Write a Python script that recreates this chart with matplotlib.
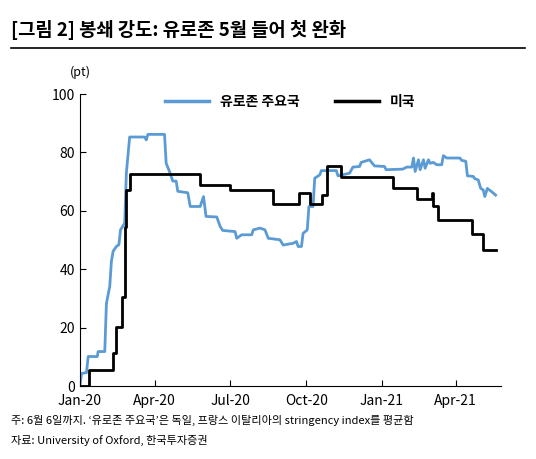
import matplotlib
matplotlib.use("Agg")
import matplotlib.pyplot as plt
from matplotlib.lines import Line2D

plt.rcParams["font.family"] = ["Noto Sans CJK KR", "DejaVu Sans"]

# days since 2020-01-01 (as laid out on the source chart)
eu_days = [0, 2, 8, 10, 21, 22, 30, 32, 36, 38, 40, 44, 47, 49, 54, 56, 60, 78, 80, 82,
           102, 104, 108, 112, 116, 118, 130, 133, 145, 149, 152, 165, 169, 172, 187, 189,
           195, 207, 209, 217, 223, 227, 241, 245, 257, 261, 263, 267, 269, 274, 276, 281,
           283, 289, 291, 309, 311, 325, 329, 337, 339, 349, 355, 367, 369, 389, 394, 400,
           402, 404, 408, 410, 414, 416, 420, 422, 426, 430, 436, 438, 442, 458, 460, 465,
           467, 474, 476, 480, 483, 486, 488, 491, 496, 501]
eu_vals = [0, 4.3, 4.6, 10.1, 10.1, 11.8, 11.8, 28.3, 34.1, 42.7, 46.1, 47.8, 48.4, 53.5,
           55.8, 72.9, 85.3, 85.3, 84.3, 86.2, 86.2, 76.3, 73.5, 70.2, 70.2, 66.7, 66.2,
           61.5, 61.5, 64.9, 58.1, 57.9, 54.7, 53.3, 52.9, 50.6, 51.8, 51.8, 53.5, 54.1,
           53.5, 50.6, 50.1, 48.3, 48.9, 49.5, 47.8, 47.8, 52.3, 53.5, 61.5, 61.5, 71.2,
           72.3, 73.8, 73.8, 72.0, 72.9, 75.0, 75.2, 76.6, 77.5, 75.4, 75.2, 74.1, 74.3,
           75.0, 75.0, 78.1, 73.5, 77.5, 74.1, 77.5, 74.6, 77.5, 76.3, 76.6, 75.8, 75.8,
           78.9, 78.1, 78.1, 77.3, 77.0, 72.0, 71.8, 71.0, 70.6, 67.7, 67.2, 64.9, 67.7,
           66.6, 65.4]

us_days = [0, 11, 40, 43, 51, 54, 56, 60, 145, 181, 233, 264, 277, 292, 298, 315, 377,
           406, 424, 426, 431, 472, 486, 501]
us_vals = [0, 5.4, 11.2, 20.3, 30.6, 54.6, 67.2, 72.5, 68.8, 67.2, 62.4, 66.0, 62.4,
           65.4, 75.4, 71.7, 68.0, 64.2, 66.0, 61.5, 56.8, 52.1, 46.6, 46.6]

tick_days = [0, 90, 181, 273, 364, 453]
tick_labels = ["Jan-20", "Apr-20", "Jul-20", "Oct-20", "Jan-21", "Apr-21"]

blue = "#5b9bd5"

fig = plt.figure(figsize=(5.36, 4.59), dpi=100)
ax = fig.add_axes([0.149, 0.159, 0.785, 0.636])

ax.plot(eu_days, eu_vals, color=blue, lw=2.0)
ax.step(us_days, us_vals, where="post", color="black", lw=2.0)

ax.set_xlim(0, 507)
ax.set_ylim(0, 100)
ax.set_yticks(range(0, 101, 20))
ax.set_xticks(tick_days)
ax.set_xticklabels(tick_labels)
ax.tick_params(axis="both", labelsize=10, direction="in", length=4)
ax.tick_params(axis="x", pad=6)
for s in ["top", "right"]:
    ax.spines[s].set_visible(False)

handles = [Line2D([], [], color=blue, lw=2.5), Line2D([], [], color="black", lw=2.5)]
ax.legend(handles, ["유로존 주요국", "미국"], loc="upper center", bbox_to_anchor=(0.5, 1.04),
          ncol=2, frameon=False, handlelength=3.2, columnspacing=2.5,
          prop={"weight": "bold", "size": 10})

fig.text(0.13, 0.835, "(pt)", fontsize=9)
fig.text(0.02, 0.935, "[그림 2] 봉쇄 강도: 유로존 5월 들어 첫 완화", fontsize=13.5,
         weight="bold", va="center")
fig.add_artist(Line2D([0.02, 0.98], [0.895, 0.895], color="black", lw=1.2))
fig.text(0.02, 0.085, "주: 6월 6일까지. ‘유로존 주요국’은 독일, 프랑스 이탈리아의 stringency index를 평균함",
         fontsize=8, va="center")
fig.text(0.02, 0.04, "자료: University of Oxford, 한국투자증권", fontsize=8, va="center")

fig.savefig("out.png", dpi=100)
